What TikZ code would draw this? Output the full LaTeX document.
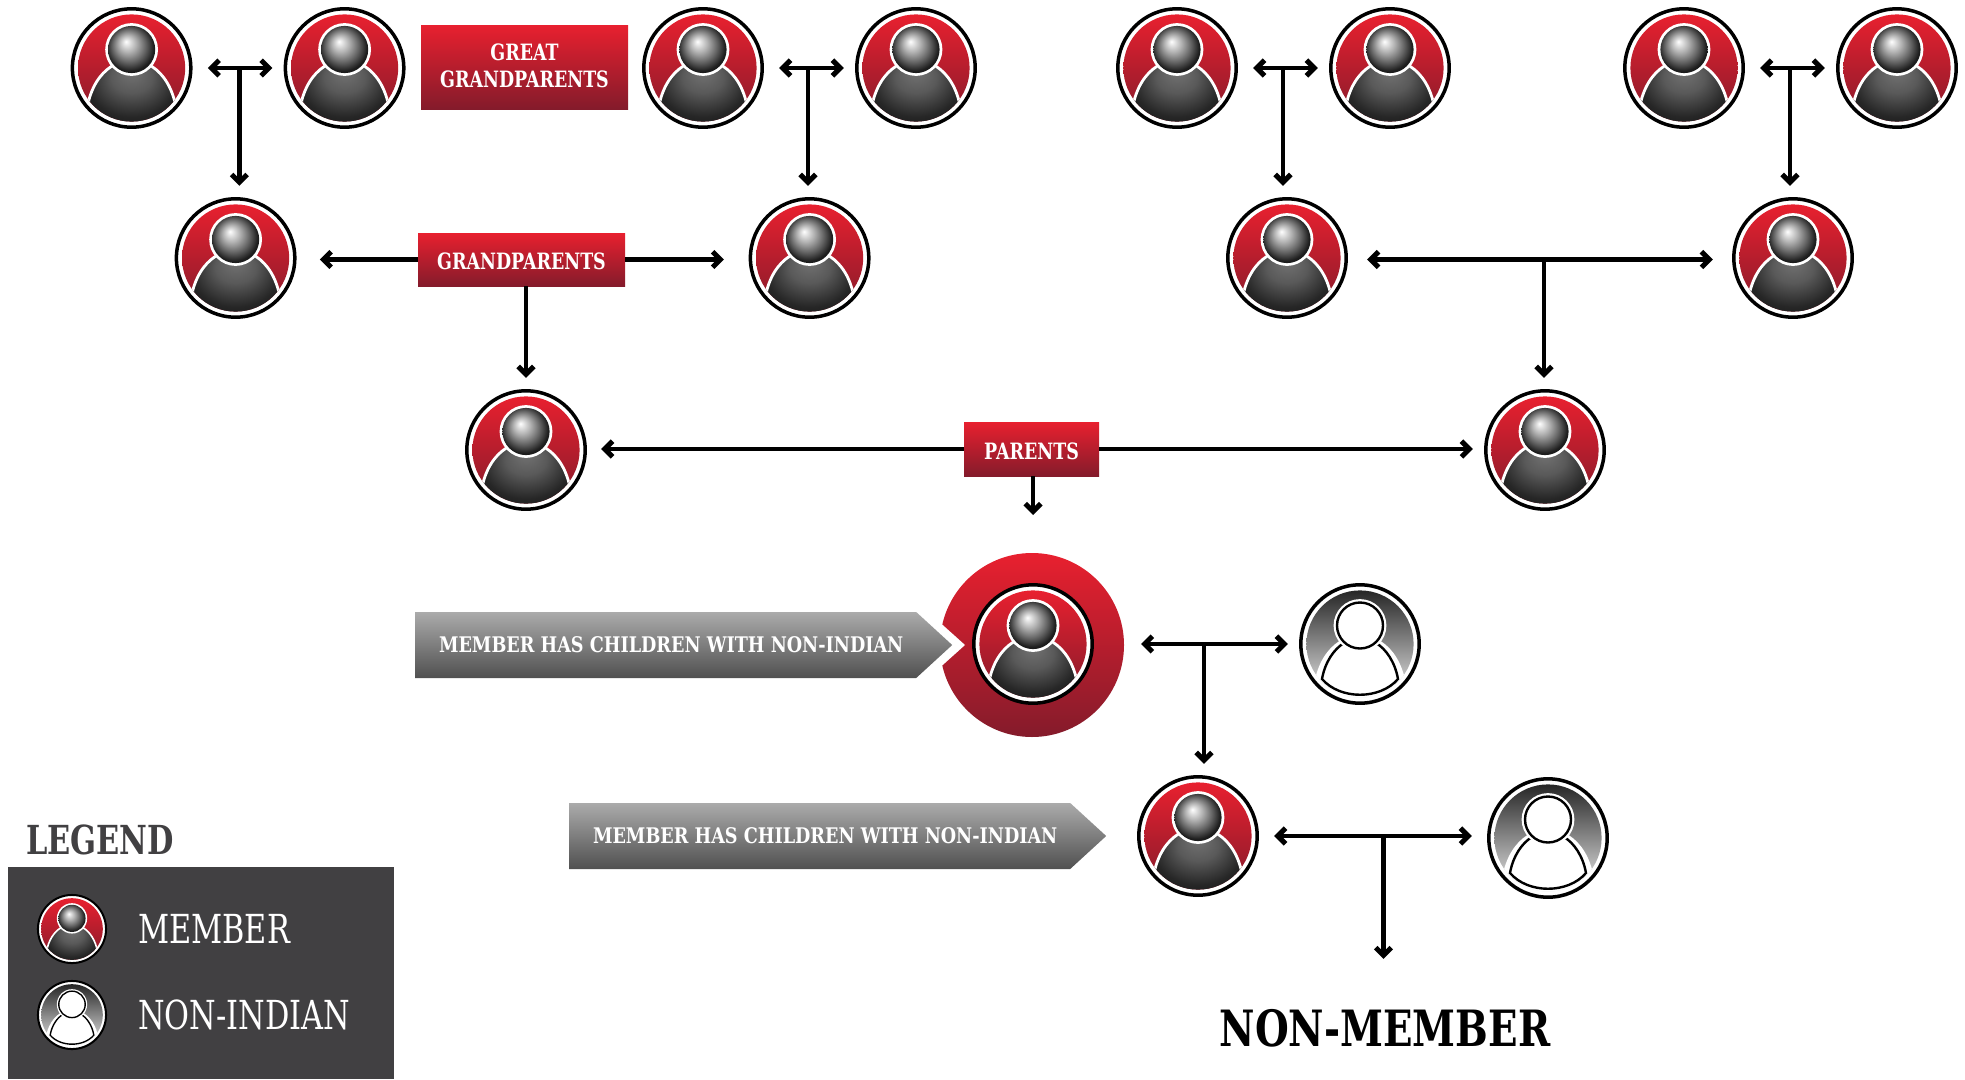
\documentclass[tikz,border=0pt]{standalone}
\usepackage{fontspec}
\setmainfont{DejaVu Serif}[FakeStretch=0.775]
\newfontfamily\notefont[FakeStretch=0.82]{DejaVu Serif}
\newfontfamily\legendfont[FakeStretch=0.76]{DejaVu Serif}
\usetikzlibrary{positioning,arrows.meta,shapes.symbols}

\definecolor{redtop}{HTML}{E8202F}
\definecolor{redbot}{HTML}{841B2B}
\definecolor{greytop}{HTML}{ABABAB}
\definecolor{greybot}{HTML}{505050}
\definecolor{legendgrey}{HTML}{414042}

\pgfdeclareradialshading{headball}{\pgfpoint{-6bp}{8.5bp}}{color(0bp)=(black!0);color(9bp)=(black!30);color(18bp)=(black!62);color(25bp)=(black!88);color(35bp)=(black)}
\pgfdeclareradialshading{bodyball}{\pgfpoint{0bp}{20bp}}{color(0bp)=(black!55);color(12bp)=(black!65);color(25bp)=(black!85);color(35bp)=(black!92);color(50bp)=(black!95)}

% body outline, top down from the icon centre
\newcommand{\bodypath}{(-43,33) .. controls (-38,14) and (-28,2) .. (-16,-4) -- (16,-4) .. controls (28,2) and (38,14) .. (43,33) -- (43,62) -- (-43,62) -- cycle}
\newcommand{\bodyline}{(-38,35) .. controls (-35,18) and (-26,5) .. (-16,-1) -- (16,-1) .. controls (26,5) and (35,18) .. (38,35) .. controls (20,56) and (-20,56) .. (-38,35) -- cycle}

\tikzset{
  iconbase/.style={circle,draw=black,fill=white,inner sep=0pt,outer sep=13pt,line width=#1*3.5pt,minimum size=#1*118.4pt},
  member/.style={iconbase=#1,path picture={
    \begin{scope}[shift={(path picture bounding box.center)},x=#1*1pt,y=-#1*1pt]
      \begin{scope}
        \clip (0,0) circle (53.6);
        \shade[top color=redtop,bottom color=redbot] (0,0) circle (53.6);
        \shade[shading=bodyball,draw=white,line width=#1*2.8pt] \bodypath;
      \end{scope}
      \fill[white] (0,-18.5) circle (26.4);
      \shade[shading=headball] (0,-18.5) circle (23.6);
    \end{scope}}},
  member/.default=1,
  outsider/.style={iconbase=#1,path picture={
    \begin{scope}[shift={(path picture bounding box.center)},x=#1*1pt,y=-#1*1pt]
      \begin{scope}
        \clip (0,0) circle (53.6);
        \shade[top color=black!85,bottom color=black!8] (0,0) circle (53.6);
        \fill[white,draw=white,line width=#1*2.8pt] \bodypath;
        \draw[black,line width=#1*2.4pt] \bodyline;
      \end{scope}
      \fill[white] (0,-18.5) circle (26.4);
      \draw[black,line width=#1*2.4pt] (0,-18.5) circle (23);
    \end{scope}}},
  outsider/.default=1,
  conn/.style={line width=4.4pt,black},
  gen/.style={top color=redtop,bottom color=redbot,text=white,inner sep=0pt,font=\fontsize{22.5}{27.5}\selectfont\bfseries,align=center,minimum width=207pt},
  note/.style={signal,signal to=east,signal pointer angle=85,top color=greytop,bottom color=greybot,text=white,inner sep=0pt,font=\notefont\fontsize{21.5}{26}\selectfont\bfseries,minimum width=537pt,minimum height=66pt,anchor=west}
}

\begin{document}
\begin{tikzpicture}[x=1pt,y=-1pt,>={Straight Barb[angle=90:11pt,line width=5pt]}]
  \useasboundingbox (0,0) rectangle (1965,1079);

  % Great grandparents
  \node[member] (gga) at (131.6,68) {};
  \node[member] (ggb) at (344.6,68) {};
  \node[member] (ggc) at (703,68) {};
  \node[member] (ggd) at (916,68) {};
  \node[member] (gge) at (1177,68) {};
  \node[member] (ggf) at (1390,68) {};
  \node[member] (ggg) at (1684,68) {};
  \node[member] (ggh) at (1897,68) {};
  \node[gen,minimum height=84pt] (greatbox) at (524.5,67) {GREAT\\GRANDPARENTS\rule[-2.5pt]{0pt}{0pt}};

  % Grandparents
  \node[member] (gpa) at (235.6,258) {};
  \node[member] (gpb) at (809.6,258) {};
  \node[member] (gpc) at (1287,258) {};
  \node[member] (gpd) at (1793,258) {};
  \node[gen,minimum height=53pt] (gpbox) at (521.5,259.5) {GRANDPARENTS\rule{0pt}{20.4pt}};

  % Parents
  \node[member] (pa) at (526,450) {};
  \node[member] (pb) at (1545,450) {};
  \node[gen,minimum width=135pt,minimum height=54pt] (pbox) at (1031.5,449) {PARENTS\rule{0pt}{20.4pt}};

  % Member with the red ring
  \node[circle,top color=redtop,bottom color=redbot,inner sep=0pt,minimum size=184pt,outer sep=17pt] (halo) at (1032,645) {};
  \fill[white] (916,601) -- (965,645) -- (916,689) -- cycle;
  \node[member] (kid) at (1033,644) {};
  \node[outsider] (spa) at (1360,644) {};
  \node[note] (notea) at (415,645) {\hspace*{11pt}MEMBER HAS CHILDREN WITH NON-INDIAN};

  % Next generation
  \node[member] (gkid) at (1198,836) {};
  \node[outsider] (spb) at (1548,838) {};
  \node[note] (noteb) at (569,836) {\hspace*{11pt}MEMBER HAS CHILDREN WITH NON-INDIAN};
  \node[inner sep=0pt,font=\fontsize{50}{60}\selectfont\bfseries] (nonmem) at (1385,1028) {NON-MEMBER};

  % Junctions
  \coordinate (ja) at (239.4,68);
  \coordinate (jb) at (808,68);
  \coordinate (jc) at (1283,68);
  \coordinate (jd) at (1790,68);
  \coordinate (je) at (1544,259.5);
  \coordinate (jf) at (1204,644);
  \coordinate (jg) at (1383.5,836);

  % Connectors
  \draw[conn,<->,shorten <=4pt] (gga) -- (ggb);
  \draw[conn,<->,shorten <=4pt] (ggc) -- (ggd);
  \draw[conn,<->,shorten <=4pt] (gge) -- (ggf);
  \draw[conn,<->,shorten <=4pt] (ggg) -- (ggh);
  \draw[conn,->] (ja) -- (ja |- gpa.north);
  \draw[conn,->] (jb) -- (jb |- gpb.north);
  \draw[conn,->] (jc) -- (jc |- gpc.north);
  \draw[conn,->] (jd) -- (jd |- gpd.north);
  \draw[conn,->,shorten >=12pt] (gpbox.west) -- (gpbox.west -| gpa.east);
  \draw[conn,->,shorten >=13.5pt] (gpbox.east) -- (gpbox.east -| gpb.west);
  \draw[conn,->] (gpbox.south -| pa) -- (pa.north);
  \draw[conn,<->,shorten <=8pt,shorten >=8pt] (gpc.east |- je) -- (gpd.west |- je);
  \draw[conn,->] (je) -- (je |- pb.north);
  \draw[conn,->,shorten >=3pt] (pbox.west) -- (pbox.west -| pa.east);
  \draw[conn,->] (pbox.east) -- (pbox.east -| pb.west);
  \draw[conn,->,shorten >=21pt] (pbox.south -| kid) -- (kid |- halo.north);
  \draw[conn,<->] (halo.east |- spa) -- (spa);
  \draw[conn,->] (jf) -- (jf |- gkid.north);
  \draw[conn,<->,shorten <=4pt,shorten >=4pt] (gkid) -- (spb.west |- gkid);
  \draw[conn,->,shorten >=50pt] (jg) -- (jg |- nonmem.north);

  % Legend
  \node[inner sep=0pt,anchor=west,text=legendgrey,font=\legendfont\fontsize{40}{48}\selectfont\bfseries] (legendhead) at (26,840) {LEGEND};
  \node[fill=legendgrey,inner sep=0pt,minimum width=386pt,minimum height=212pt] (legendbox) at (201,973) {};
  \node[member=0.575] (legenda) at (72,929) {};
  \node[outsider=0.575] (legendb) at (72,1015) {};
  \node[inner sep=0pt,anchor=west,text=white,font=\legendfont\fontsize{40}{48}\selectfont] (legendc) at (138,929) {MEMBER};
  \node[inner sep=0pt,anchor=west,text=white,font=\legendfont\fontsize{40}{48}\selectfont] (legendd) at (138,1015) {NON-INDIAN};
\end{tikzpicture}
\end{document}
